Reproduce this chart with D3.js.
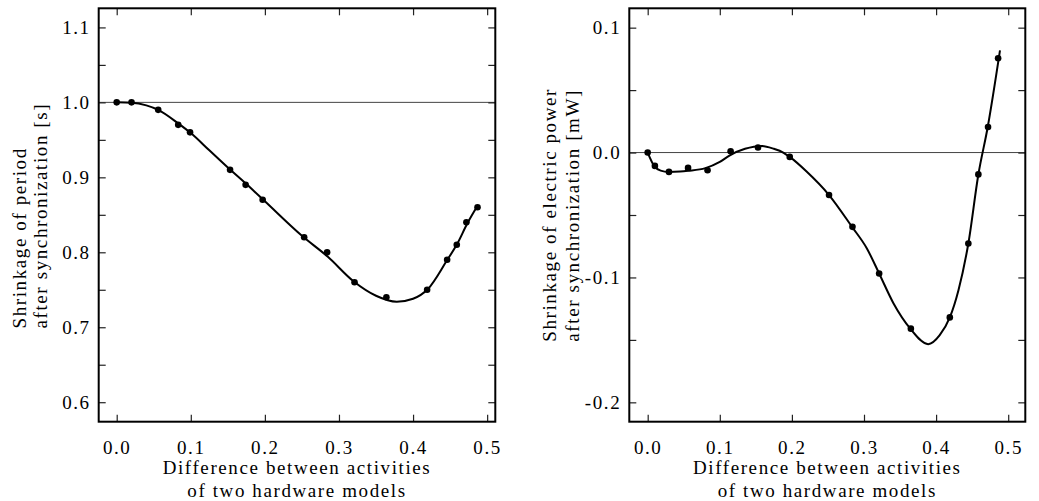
<!DOCTYPE html>
<html>
<head>
<meta charset="utf-8">
<script src="https://cdn.jsdelivr.net/npm/d3@7"></script>
<style>
  html, body { margin: 0; padding: 0; background: #fff; }
  svg { display: block; }
</style>
</head>
<body>
<svg id="chart" width="1039" height="501"></svg>
<script>
// ---------- data ----------
const xTickValues = [0.0, 0.1, 0.2, 0.3, 0.4, 0.5];

// Left panel: shrinkage of period
const periodTickValues = [0.6, 0.65, 0.7, 0.75, 0.8, 0.85, 0.9, 0.95, 1.0, 1.05, 1.1];
const periodTickLabels = ["0.6", "", "0.7", "", "0.8", "", "0.9", "", "1.0", "", "1.1"];
const periodPointsX = [0, 0.020, 0.056, 0.083, 0.099, 0.153, 0.174, 0.197, 0.253, 0.284, 0.321, 0.364, 0.419, 0.446, 0.459, 0.472, 0.487];
const periodPointsY = [1.00, 1.00, 0.99, 0.97, 0.96, 0.91, 0.89, 0.87, 0.82, 0.80, 0.76, 0.74, 0.75, 0.79, 0.81, 0.84, 0.86];
const periodCurveX = [0, 0.02, 0.04, 0.056, 0.083, 0.10, 0.125, 0.15, 0.175, 0.20, 0.25, 0.285, 0.32, 0.35, 0.378, 0.40, 0.42, 0.445, 0.46, 0.473, 0.487];
const periodCurveY = [1.0, 0.9995, 0.996, 0.99, 0.972, 0.959, 0.936, 0.913, 0.891, 0.868, 0.822, 0.794, 0.761, 0.742, 0.734, 0.738, 0.751, 0.788, 0.812, 0.838, 0.862];
const periodReference = 1.0;

// Right panel: shrinkage of electric power
const powerTickValues = [-0.2, -0.15, -0.1, -0.05, 0.0, 0.05, 0.1];
const powerTickLabels = ["-0.2", "", "-0.1", "", "0.0", "", "0.1"];
const powerPointsX = [0, 0.010, 0.0295, 0.056, 0.083, 0.115, 0.153, 0.197, 0.2515, 0.284, 0.321, 0.365, 0.419, 0.4447, 0.4586, 0.472, 0.486];
const powerPointsY = [0, -0.0107, -0.0155, -0.0123, -0.0142, 0.001, 0.004, -0.0035, -0.034, -0.0595, -0.0968, -0.141, -0.132, -0.0728, -0.0175, 0.0205, 0.0755];
const powerCurveX = [0, 0.009, 0.018, 0.029, 0.045, 0.056, 0.08, 0.10, 0.114, 0.135, 0.158, 0.175, 0.188, 0.197, 0.22, 0.2515, 0.2834, 0.304, 0.321, 0.341, 0.364, 0.389, 0.405, 0.419, 0.431, 0.4447, 0.4586, 0.4716, 0.4886];
const powerCurveY = [0, -0.0107, -0.0145, -0.0155, -0.0152, -0.0146, -0.0125, -0.0075, -0.0022, 0.003, 0.0053, 0.003, 0.0, -0.0035, -0.015, -0.034, -0.0595, -0.0768, -0.0968, -0.1208, -0.1408, -0.1534, -0.1462, -0.132, -0.1102, -0.0728, -0.0176, 0.0205, 0.0818];
const powerReference = 0.0;

const xLabelLines = ["Difference between activities", "of two hardware models"];
const periodLabelLines = ["Shrinkage of period", "after synchronization [s]"];
const powerLabelLines = ["Shrinkage of electric power", "after synchronization [mW]"];

// ---------- drawing ----------
const svg = d3.select("#chart");
const FAMILY = "'Liberation Serif', 'Times New Roman', 'DejaVu Serif', serif";
const FONT = 19, LS = "1.6px";

function fontify(sel) {
  sel.attr("font-family", FAMILY)
     .style("font-family", FAMILY)
     .style("font-size", FONT + "px")
     .style("letter-spacing", LS)
     .attr("fill", "#000");
}

function panel(cfg) {
  const g = svg.append("g");
  const x = d3.scaleLinear().domain(cfg.xDomain).range([cfg.left, cfg.right]);
  const y = d3.scaleLinear().domain(cfg.yDomain).range([cfg.bottom, cfg.top]);

  // reference line
  g.append("line")
    .attr("x1", cfg.left).attr("x2", cfg.right)
    .attr("y1", y(cfg.ref)).attr("y2", y(cfg.ref))
    .attr("stroke", "#444").attr("stroke-width", 1);

  const styleAxis = (sel, showLabels) => {
    sel.attr("font-family", FAMILY);
    sel.select(".domain").remove();
    sel.selectAll(".tick line").attr("stroke", "#222").attr("stroke-width", 1.2);
    if (showLabels) sel.selectAll(".tick text").call(fontify);
    else sel.selectAll(".tick text").remove();
  };

  // bottom axis
  g.append("g").attr("transform", `translate(0,${cfg.bottom})`)
    .call(d3.axisBottom(x).tickValues(xTickValues).tickSize(-7).tickPadding(19)
      .tickFormat(d3.format(".1f")))
    .call(s => styleAxis(s, true));
  // top axis
  g.append("g").attr("transform", `translate(0,${cfg.top})`)
    .call(d3.axisTop(x).tickValues(xTickValues).tickSize(-7))
    .call(s => styleAxis(s, false));
  // left axis
  g.append("g").attr("transform", `translate(${cfg.left},0)`)
    .call(d3.axisLeft(y).tickValues(cfg.yTicks).tickSize(-7).tickPadding(8)
      .tickFormat((d, i) => cfg.yLabels[i]))
    .call(s => styleAxis(s, true));
  // right axis
  g.append("g").attr("transform", `translate(${cfg.right},0)`)
    .call(d3.axisRight(y).tickValues(cfg.yTicks).tickSize(-7))
    .call(s => styleAxis(s, false));

  // frame
  g.append("rect")
    .attr("x", cfg.left).attr("y", cfg.top)
    .attr("width", cfg.right - cfg.left).attr("height", cfg.bottom - cfg.top)
    .attr("fill", "none").attr("stroke", "#000").attr("stroke-width", 2);

  // fitted curve
  const curve = cfg.curveX.map((v, i) => [v, cfg.curveY[i]]);
  g.append("path")
    .datum(curve)
    .attr("fill", "none").attr("stroke", "#000").attr("stroke-width", 2)
    .attr("d", d3.line().x(d => x(d[0])).y(d => y(d[1])).curve(d3.curveMonotoneX));

  // points
  const pts = cfg.ptsX.map((v, i) => [v, cfg.ptsY[i]]);
  g.selectAll("circle.pt").data(pts).join("circle")
    .attr("class", "pt")
    .attr("cx", d => x(d[0])).attr("cy", d => y(d[1]))
    .attr("r", 3.3).attr("fill", "#000");

  // x label
  const cx = (cfg.left + cfg.right) / 2;
  g.selectAll("text.xl").data(xLabelLines).join("text")
    .attr("class", "xl")
    .attr("x", cx).attr("y", (d, i) => 474 + i * 23)
    .attr("text-anchor", "middle")
    .call(fontify)
    .text(d => d);

  // y label (rotated, start-aligned)
  g.selectAll("text.yl").data(cfg.yLabelLines).join("text")
    .attr("class", "yl")
    .attr("transform", (d, i) => `translate(${cfg.yLabelX[i]},${cfg.yLabelStart}) rotate(-90)`)
    .attr("text-anchor", "start")
    .call(fontify)
    .text(d => d);
}

panel({
  left: 98.7, right: 495.3, top: 8.3, bottom: 421.7,
  xDomain: [-0.0243, 0.511], yDomain: [0.574, 1.1255],
  yTicks: periodTickValues, yLabels: periodTickLabels,
  ref: periodReference,
  curveX: periodCurveX, curveY: periodCurveY,
  ptsX: periodPointsX, ptsY: periodPointsY,
  yLabelLines: periodLabelLines, yLabelX: [25.5, 47], yLabelStart: 328.5
});

panel({
  left: 629.3, right: 1025.3, top: 8.3, bottom: 421.7,
  xDomain: [-0.0255, 0.5237], yDomain: [-0.2155, 0.1155],
  yTicks: powerTickValues, yLabels: powerTickLabels,
  ref: powerReference,
  curveX: powerCurveX, curveY: powerCurveY,
  ptsX: powerPointsX, ptsY: powerPointsY,
  yLabelLines: powerLabelLines, yLabelX: [555.5, 579], yLabelStart: 341.7
});
</script>
</body>
</html>
